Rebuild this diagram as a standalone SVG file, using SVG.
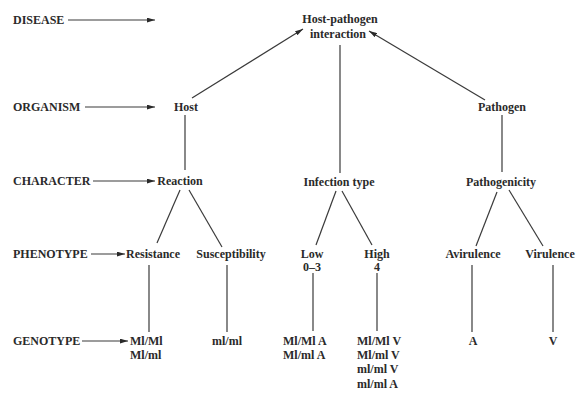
<svg xmlns="http://www.w3.org/2000/svg" width="582" height="394" viewBox="0 0 582 394">
<style>
text{font-family:"Liberation Serif","Times New Roman",serif;font-weight:bold;font-size:12px;fill:#2a2a2a}
.m{text-anchor:middle}
line{stroke:#3a3a3a;stroke-width:1.2}
</style>
<defs>
<marker id="ah" viewBox="0 0 10 6" refX="10" refY="3" markerWidth="8" markerHeight="5" orient="auto" markerUnits="userSpaceOnUse">
<path d="M0,0 L10,3 L0,6 z" fill="#2a2a2a"/>
</marker>
</defs>
<rect width="582" height="394" fill="#fff"/>
<g id="levels">
<text x="13" y="24">DISEASE</text>
<text x="13" y="111">ORGANISM</text>
<text x="13" y="185">CHARACTER</text>
<text x="13" y="258">PHENOTYPE</text>
<text x="13" y="345">GENOTYPE</text>
</g>
<g id="interaction"><text class="m" x="340" y="23">Host-pathogen</text><text class="m" x="338" y="38">interaction</text></g>
<g id="host"><text class="m" x="186" y="111">Host</text></g>
<g id="pathogen"><text class="m" x="502" y="111">Pathogen</text></g>
<g id="reaction"><text class="m" x="180" y="185">Reaction</text></g>
<g id="infectiontype"><text class="m" x="339" y="186">Infection type</text></g>
<g id="pathogenicity"><text class="m" x="501" y="186">Pathogenicity</text></g>
<g id="resistance"><text class="m" x="153" y="258">Resistance</text></g>
<g id="susceptibility"><text class="m" x="231" y="258">Susceptibility</text></g>
<g id="low"><text class="m" x="312" y="258">Low</text><text class="m" x="312" y="271">0–3</text></g>
<g id="high"><text class="m" x="377" y="258">High</text><text class="m" x="377" y="271">4</text></g>
<g id="avirulence"><text class="m" x="473" y="258">Avirulence</text></g>
<g id="virulence"><text class="m" x="550" y="258">Virulence</text></g>
<g id="g-res"><text x="130" y="345">Ml/Ml</text><text x="130" y="359">Ml/ml</text></g>
<g id="g-sus"><text class="m" x="227" y="345">ml/ml</text></g>
<g id="g-low"><text x="283" y="345">Ml/Ml A</text><text x="283" y="359">Ml/ml A</text></g>
<g id="g-high"><text x="357" y="345">Ml/Ml V</text><text x="357" y="359">Ml/ml V</text><text x="357" y="373">ml/ml V</text><text x="357" y="388">ml/ml A</text></g>
<g id="g-avr"><text class="m" x="473" y="345">A</text></g>
<g id="g-vir"><text class="m" x="553" y="345">V</text></g>
<g id="connectors">
<line x1="68" y1="20" x2="155" y2="20" marker-end="url(#ah)"/>
<line x1="85" y1="107" x2="155" y2="107" marker-end="url(#ah)"/>
<line x1="93" y1="181" x2="155" y2="181" marker-end="url(#ah)"/>
<line x1="91" y1="254" x2="125" y2="254" marker-end="url(#ah)"/>
<line x1="82" y1="341" x2="128" y2="341" marker-end="url(#ah)"/>
<line x1="192" y1="98" x2="303" y2="29" marker-end="url(#ah)"/>
<line x1="485" y1="100" x2="369" y2="31" marker-end="url(#ah)"/>
<line x1="340" y1="45" x2="340" y2="173"/>
<line x1="185" y1="115" x2="185" y2="170"/>
<line x1="502" y1="115" x2="502" y2="172"/>
<line x1="180" y1="190" x2="157" y2="243"/>
<line x1="189" y1="190" x2="222" y2="247"/>
<line x1="336" y1="191" x2="316" y2="245"/>
<line x1="342" y1="191" x2="372" y2="245"/>
<line x1="497" y1="192" x2="476" y2="246"/>
<line x1="509" y1="190" x2="543" y2="246"/>
<line x1="149" y1="265" x2="149" y2="332"/>
<line x1="227" y1="265" x2="227" y2="332"/>
<line x1="313" y1="273" x2="313" y2="331"/>
<line x1="377" y1="273" x2="377" y2="331"/>
<line x1="472" y1="265" x2="472" y2="332"/>
<line x1="553" y1="265" x2="553" y2="332"/>
</g>
</svg>
